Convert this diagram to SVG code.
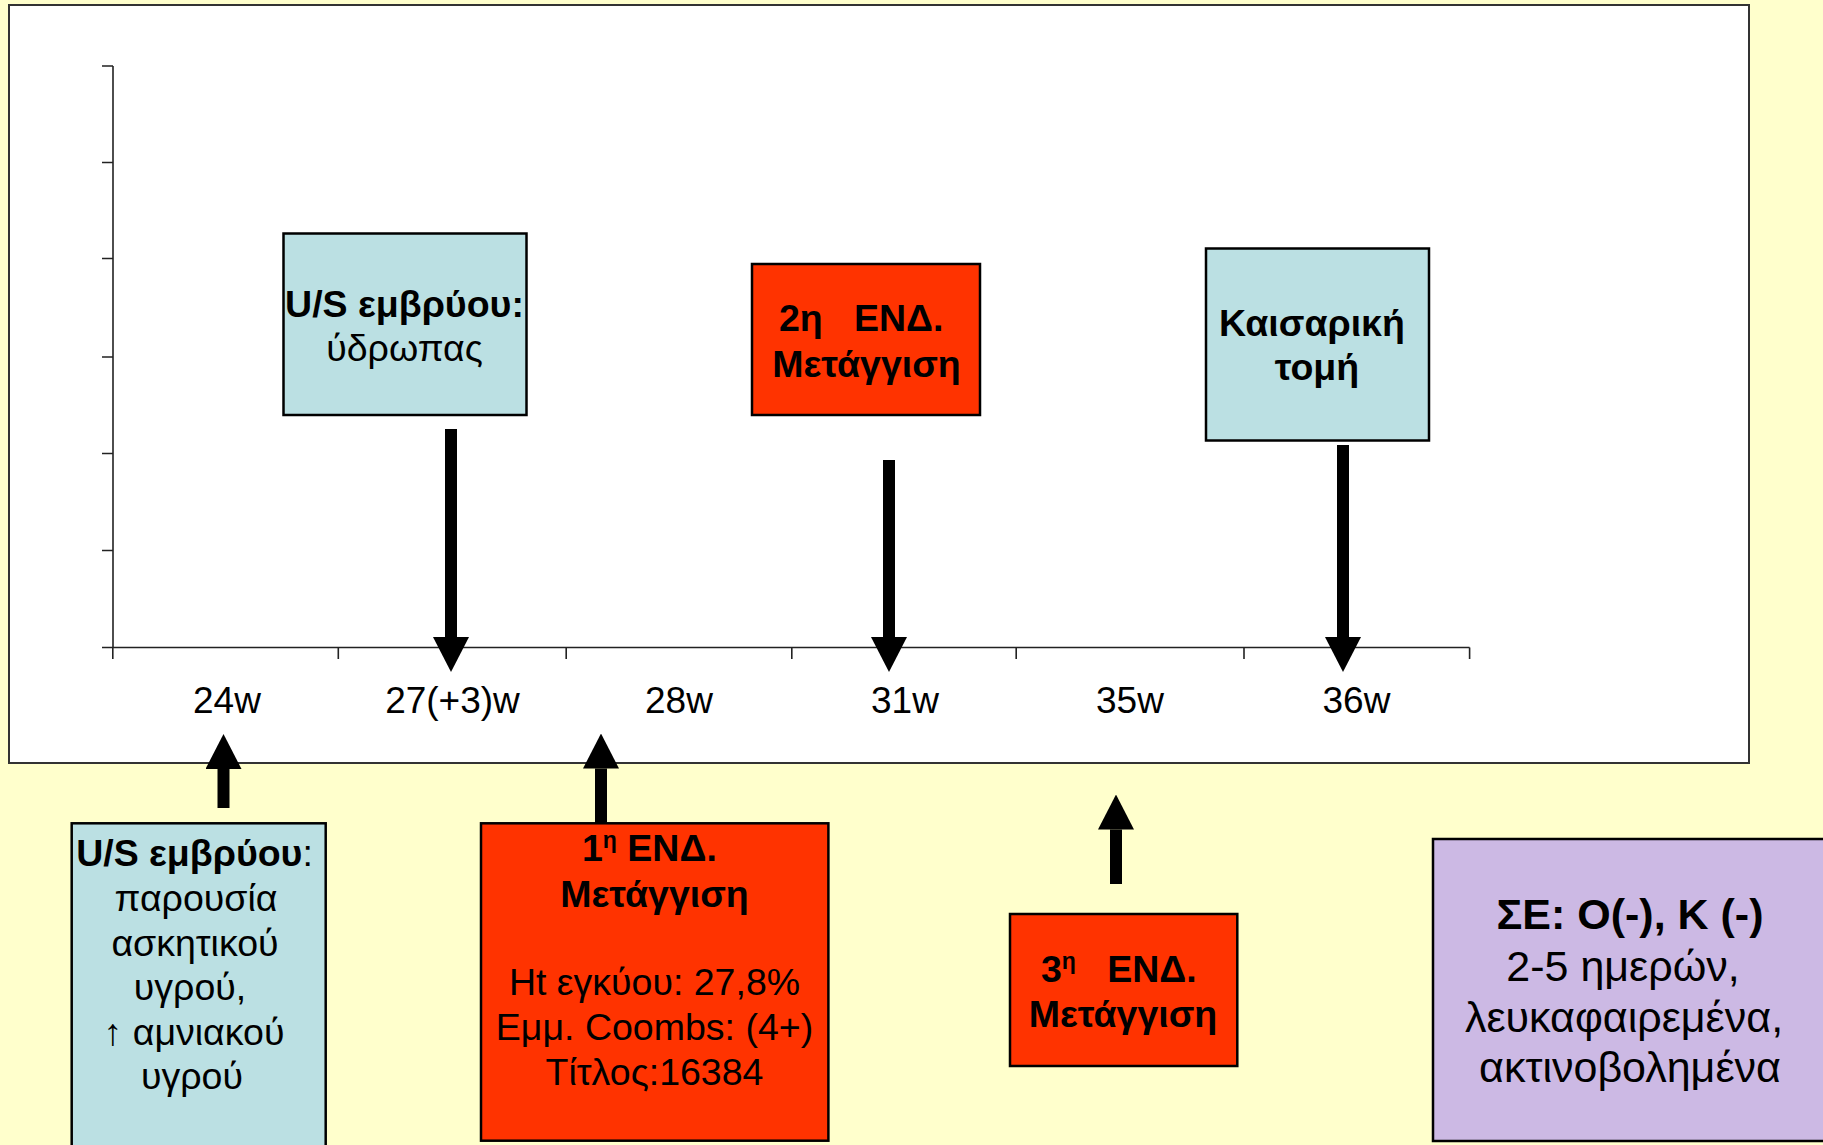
<svg xmlns="http://www.w3.org/2000/svg" width="1823" height="1145" viewBox="0 0 1823 1145">
<defs>
<style>
text{font-family:"Liberation Sans",Arial,sans-serif;fill:#000}
.t{font-size:37.5px;text-anchor:middle}
.p{font-size:43px;text-anchor:middle}
.b{font-weight:bold}
.lbl{font-size:37px;text-anchor:middle}
.blue{fill:#BBE0E3;stroke:#000;stroke-width:2.5}
.red{fill:#FF3300;stroke:#000;stroke-width:2.5}
.purple{fill:#CCB9E4;stroke:#000;stroke-width:2.5}
.axis{stroke:#222;stroke-width:1.6;fill:none}
.arr{stroke:#000;stroke-width:12;marker-end:url(#ah)}
</style>
<marker id="ah" markerUnits="userSpaceOnUse" viewBox="0 0 35 36" markerWidth="35" markerHeight="36" refX="0" refY="18" orient="auto">
<path d="M0,0 L35,18 L0,36 z" fill="#000"/>
</marker>
</defs>
<rect x="0" y="0" width="1823" height="1145" fill="#FFFFCC"/>
<g id="chart">
<rect x="9" y="5" width="1740" height="758" fill="#fff" stroke="#333" stroke-width="2"/>
<path class="axis" d="M113,66 V647.5 M102,66 H113 M102,162.5 H113 M102,258.5 H113 M102,357 H113 M102,453.5 H113 M102,550.5 H113 M102,647.5 H1469.6"/>
<path class="axis" d="M112.8,647.5 V659 M338.3,647.5 V659 M566.2,647.5 V659 M791.8,647.5 V659 M1016.2,647.5 V659 M1244,647.5 V659 M1469.6,647.5 V659"/>
<text class="lbl" x="227" y="712.5">24w</text>
<text class="lbl" x="452.5" y="712.5">27(+3)w</text>
<text class="lbl" x="679" y="712.5">28w</text>
<text class="lbl" x="905" y="712.5">31w</text>
<text class="lbl" x="1130" y="712.5">35w</text>
<text class="lbl" x="1356.5" y="712.5">36w</text>
</g>
<g id="connectors">
<line class="arr" x1="451" y1="429" x2="451" y2="637"/>
<line class="arr" x1="889" y1="460" x2="889" y2="637"/>
<line class="arr" x1="1343" y1="445" x2="1343" y2="637"/>
<line class="arr" x1="223.5" y1="808" x2="223.5" y2="769"/>
<line class="arr" x1="601" y1="823" x2="601" y2="768.5"/>
<line class="arr" x1="1116" y1="884" x2="1116" y2="829.5"/>
</g>
<g id="us-hydrops">
<rect class="blue" x="283.5" y="233.5" width="243" height="181.5"/>
<text class="t b" x="404.5" y="317">U/S εμβρύου:</text>
<text class="t" x="404.5" y="361">ύδρωπας</text>
</g>
<g id="end2">
<rect class="red" x="752" y="264" width="228" height="151"/>
<text class="t b" x="779" y="331" style="text-anchor:start" xml:space="preserve">2η   ΕΝΔ.</text>
<text class="t b" x="866.5" y="377">Μετάγγιση</text>
</g>
<g id="caesarean">
<rect class="blue" x="1206" y="248.5" width="223" height="192"/>
<text class="t b" x="1312" y="336">Καισαρική</text>
<text class="t b" x="1317" y="380">τομή</text>
</g>
<g id="us-ascites">
<rect class="blue" x="71.7" y="823.3" width="254" height="330"/>
<text class="t" x="194.5" y="866"><tspan class="b">U/S εμβρύου</tspan>:</text>
<text class="t" x="196" y="911">παρουσία</text>
<text class="t" x="195" y="955.5">ασκητικού</text>
<text class="t" x="190" y="1000">υγρού,</text>
<text class="t" x="194" y="1044.5">↑ αμνιακού</text>
<text class="t" x="192" y="1089">υγρού</text>
</g>
<g id="end1">
<rect class="red" x="481" y="823.3" width="347.4" height="317.4"/>
<text class="t b" x="582" y="860.5" style="text-anchor:start">1<tspan font-size="23" dy="-13">η</tspan><tspan dy="13"> ΕΝΔ.</tspan></text>
<text class="t b" x="654.5" y="906.5">Μετάγγιση</text>
<text class="t" x="654.5" y="995">Ht εγκύου: 27,8%</text>
<text class="t" x="654.5" y="1040">Εμμ. Coombs: (4+)</text>
<text class="t" x="654.5" y="1085">Τίτλος:16384</text>
</g>
<g id="end3">
<rect class="red" x="1010" y="914" width="227.3" height="152"/>
<text class="t b" x="1041" y="981.5" style="text-anchor:start" xml:space="preserve">3<tspan font-size="23" dy="-13">η</tspan><tspan dy="13">   ΕΝΔ.</tspan></text>
<text class="t b" x="1123" y="1026.5">Μετάγγιση</text>
</g>
<g id="blood">
<rect class="purple" x="1433" y="839" width="400" height="302"/>
<text class="p b" x="1630" y="929">ΣΕ: Ο(-), Κ (-)</text>
<text class="p" x="1623" y="981">2-5 ημερών,</text>
<text class="p" x="1624" y="1032">λευκαφαιρεμένα,</text>
<text class="p" x="1630" y="1082">ακτινοβολημένα</text>
</g>
</svg>
